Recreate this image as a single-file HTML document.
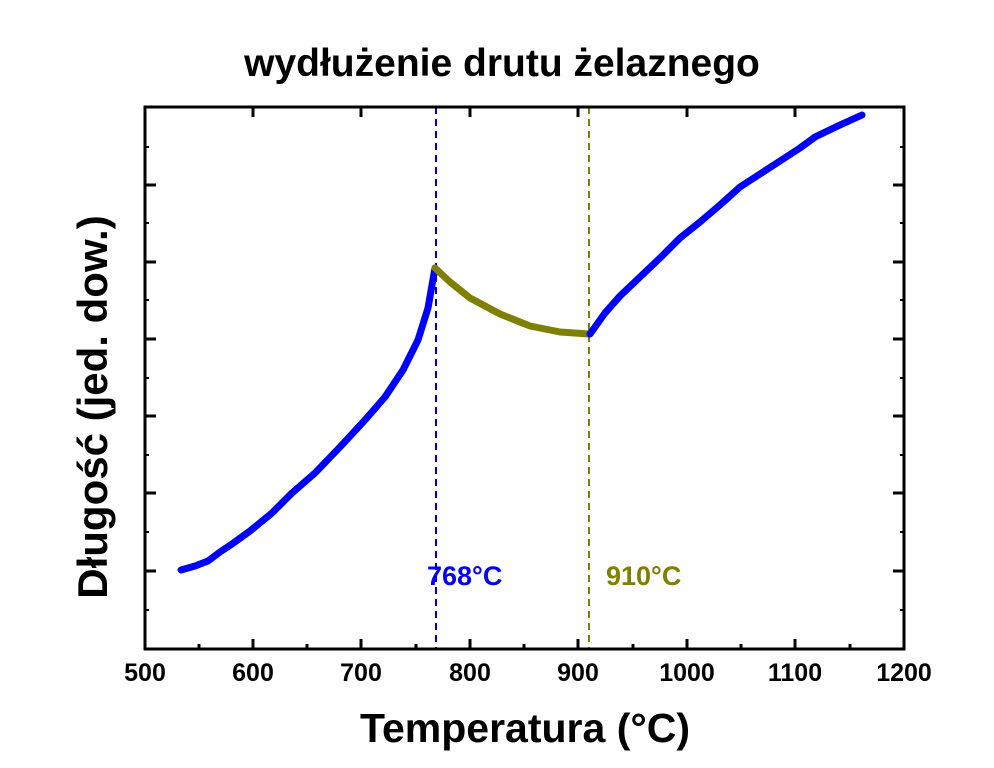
<!DOCTYPE html>
<html><head><meta charset="utf-8"><style>
html,body{margin:0;padding:0;background:#fff;}
svg{display:block;font-family:"Liberation Sans",Arial,sans-serif;font-weight:bold;}
</style></head><body>
<svg width="994" height="768" viewBox="0 0 994 768" xmlns="http://www.w3.org/2000/svg">
<text x="502" y="76" font-size="39" text-anchor="middle">wydłużenie drutu żelaznego</text>
<line x1="436" y1="107" x2="436" y2="648" stroke="#0000cc" stroke-width="2" stroke-dasharray="7,5"/>
<line x1="589" y1="107" x2="589" y2="648" stroke="#808000" stroke-width="2" stroke-dasharray="7,5"/>
<polyline fill="none" stroke="#0000ff" stroke-width="7" stroke-linecap="round" stroke-linejoin="round"
points="181,570 195,566 208,561 220,552 232,544 250,531 272,513 292,493 315,473 340,447 365,420 385,397 403,370 418,340 428,308 435,268"/>
<polyline fill="none" stroke="#808000" stroke-width="7" stroke-linecap="round" stroke-linejoin="round"
points="435,268 450,282 470,298 500,314 530,326 560,332 589,334"/>
<polyline fill="none" stroke="#0000ff" stroke-width="7" stroke-linecap="round" stroke-linejoin="round"
points="590,334 605,313 620,296 640,277 660,258 680,238 700,222 720,205 740,187 760,174 780,161 800,148 815,137 840,125 862,115"/>
<rect x="145" y="107" width="759" height="542" fill="none" stroke="#000" stroke-width="3"/>
<g stroke="#000" stroke-width="3">
<line x1="253" y1="649" x2="253" y2="639"/><line x1="361" y1="649" x2="361" y2="639"/>
<line x1="470" y1="649" x2="470" y2="639"/><line x1="578" y1="649" x2="578" y2="639"/>
<line x1="687" y1="649" x2="687" y2="639"/><line x1="795" y1="649" x2="795" y2="639"/>
<line x1="253" y1="107" x2="253" y2="117"/><line x1="361" y1="107" x2="361" y2="117"/>
<line x1="470" y1="107" x2="470" y2="117"/><line x1="578" y1="107" x2="578" y2="117"/>
<line x1="687" y1="107" x2="687" y2="117"/><line x1="795" y1="107" x2="795" y2="117"/>
<line x1="199" y1="649" x2="199" y2="644"/><line x1="307" y1="649" x2="307" y2="644"/>
<line x1="416" y1="649" x2="416" y2="644"/><line x1="524" y1="649" x2="524" y2="644"/>
<line x1="633" y1="649" x2="633" y2="644"/><line x1="741" y1="649" x2="741" y2="644"/>
<line x1="850" y1="649" x2="850" y2="644"/>
<line x1="145" y1="185" x2="156" y2="185"/><line x1="145" y1="262" x2="156" y2="262"/>
<line x1="145" y1="339" x2="156" y2="339"/><line x1="145" y1="416" x2="156" y2="416"/>
<line x1="145" y1="493" x2="156" y2="493"/><line x1="145" y1="571" x2="156" y2="571"/>
<line x1="904" y1="185" x2="893" y2="185"/><line x1="904" y1="262" x2="893" y2="262"/>
<line x1="904" y1="339" x2="893" y2="339"/><line x1="904" y1="416" x2="893" y2="416"/>
<line x1="904" y1="493" x2="893" y2="493"/><line x1="904" y1="571" x2="893" y2="571"/>
</g>
<g stroke="#000" stroke-width="2">
<line x1="145" y1="147" x2="149" y2="147"/><line x1="145" y1="223" x2="149" y2="223"/>
<line x1="145" y1="300" x2="149" y2="300"/><line x1="145" y1="378" x2="149" y2="378"/>
<line x1="145" y1="455" x2="149" y2="455"/><line x1="145" y1="532" x2="149" y2="532"/>
<line x1="145" y1="610" x2="149" y2="610"/>
<line x1="904" y1="147" x2="900" y2="147"/><line x1="904" y1="223" x2="900" y2="223"/>
<line x1="904" y1="300" x2="900" y2="300"/><line x1="904" y1="378" x2="900" y2="378"/>
<line x1="904" y1="455" x2="900" y2="455"/><line x1="904" y1="532" x2="900" y2="532"/>
<line x1="904" y1="610" x2="900" y2="610"/>
</g>
<g font-size="25" text-anchor="middle">
<text x="145" y="681">500</text><text x="253" y="681">600</text><text x="361" y="681">700</text>
<text x="470" y="681">800</text><text x="578" y="681">900</text><text x="687" y="681">1000</text>
<text x="795" y="681">1100</text><text x="904" y="681">1200</text>
</g>
<text x="525" y="742" font-size="41" text-anchor="middle">Temperatura (°C)</text>
<text transform="translate(107,407) rotate(-90)" font-size="42" text-anchor="middle">Długość (jed. dow.)</text>
<text x="427" y="585" font-size="27" fill="#0000ff">768°C</text>
<text x="606" y="585" font-size="27" fill="#808000">910°C</text>
</svg>
</body></html>
